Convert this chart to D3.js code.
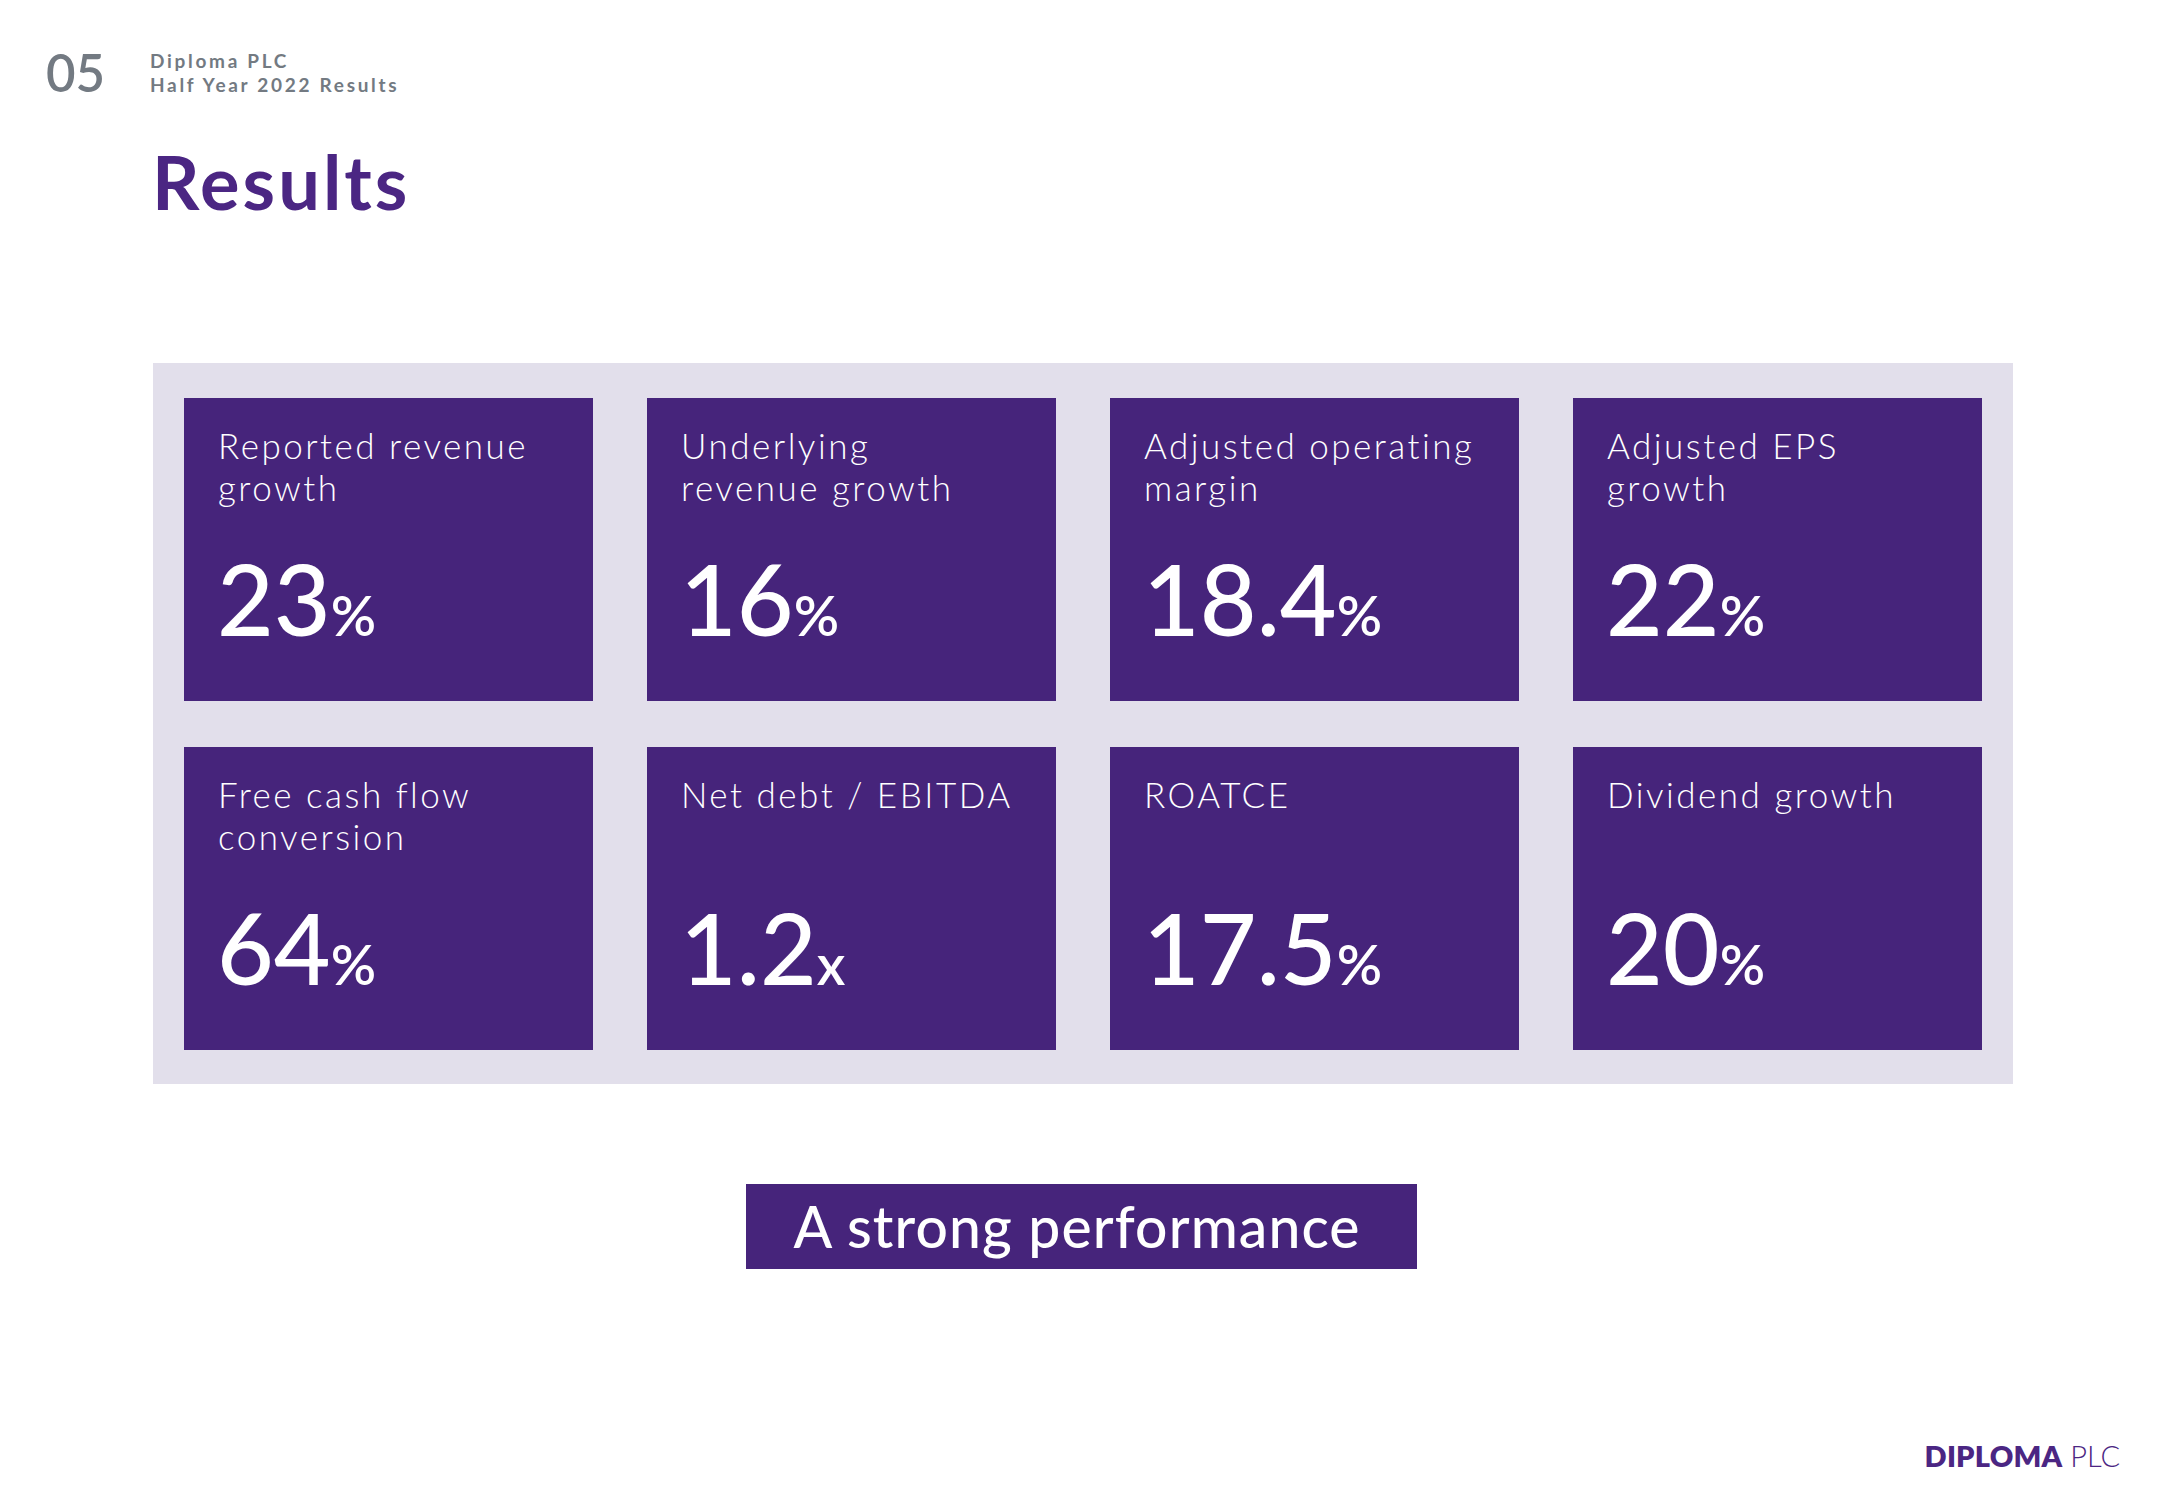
<!DOCTYPE html>
<html>
<head>
<meta charset="utf-8">
<script src="https://cdn.jsdelivr.net/npm/d3@7"></script>
<style>
  html, body { margin: 0; padding: 0; background: #ffffff; }
  svg { display: block; }
</style>
</head>
<body>
<svg id="chart"></svg>
<script>
// ---- data ----
const labels = [
  ["Reported revenue", "growth"],
  ["Underlying", "revenue growth"],
  ["Adjusted operating", "margin"],
  ["Adjusted EPS", "growth"],
  ["Free cash flow", "conversion"],
  ["Net debt / EBITDA"],
  ["ROATCE"],
  ["Dividend growth"]
];
const values = ["23", "16", "18.4", "22", "64", "1.2", "17.5", "20"];
const units = ["%", "%", "%", "%", "%", "x", "%", "%"];
const pageNumber = "05";
const headerLines = ["Diploma PLC", "Half Year 2022 Results"];
const title = "Results";
const banner = "A strong performance";

// ---- layout ----
const W = 2166, H = 1500;
const purple = "#46247b";
const lavender = "#e2dfeb";
const titlePurple = "#4b2683";
const grey = "#737a82";
const font = "Lato, 'Open Sans', 'Noto Sans', sans-serif";

const svg = d3.select("#chart").attr("width", W).attr("height", H)
  .style("font-family", font);
svg.append("rect").attr("width", W).attr("height", H).attr("fill", "#fff");

// header
svg.append("text").attr("x", 46).attr("y", 92).text(pageNumber)
  .attr("font-size", 51).attr("font-weight", 600).attr("fill", grey);
svg.selectAll("text.hdr").data(headerLines).join("text")
  .attr("class", "hdr")
  .attr("x", 150).attr("y", (d, i) => 68 + i * 24)
  .attr("font-size", 19).attr("font-weight", 700)
  .attr("letter-spacing", 2.7).attr("fill", grey).text(d => d);

svg.append("text").attr("x", 152).attr("y", 210).text(title)
  .attr("font-size", 74).attr("font-weight", 700).attr("letter-spacing", 3)
  .attr("fill", titlePurple);

// panel
svg.append("rect").attr("x", 153).attr("y", 363).attr("width", 1860).attr("height", 721)
  .attr("fill", lavender);

const idx = d3.range(values.length);
const x = d3.scaleBand().domain(d3.range(4)).range([184, 1982]).paddingInner(54 / 463);
const y = d3.scaleBand().domain(d3.range(2)).range([398, 1050]).paddingInner(46 / 349);

const tiles = svg.selectAll("g.tile").data(idx).join("g")
  .attr("class", "tile")
  .attr("transform", i => `translate(${x(i % 4)},${y(Math.floor(i / 4))})`);

tiles.append("rect")
  .attr("width", x.bandwidth()).attr("height", y.bandwidth())
  .attr("fill", purple);

tiles.each(function(i) {
  const g = d3.select(this);
  g.selectAll("text.lbl").data(labels[i]).join("text")
    .attr("class", "lbl")
    .attr("x", 34).attr("y", (d, j) => 61 + j * 42)
    .attr("font-size", 35).attr("font-weight", 300)
    .attr("letter-spacing", 2.5)
    .attr("fill", "#ffffff").text(d => d);
  const t = g.append("text").attr("x", 33).attr("y", 238)
    .attr("fill", "#ffffff").attr("font-weight", 500);
  t.append("tspan").attr("font-size", 98).text(values[i]);
  t.append("tspan").attr("font-size", 56).attr("font-weight", 600).text(units[i]);
});

// banner
svg.append("rect").attr("x", 746).attr("y", 1184).attr("width", 671).attr("height", 85)
  .attr("fill", purple);
svg.append("text").attr("x", 1077).attr("y", 1248).attr("text-anchor", "middle")
  .attr("font-size", 57).attr("font-weight", 500).attr("letter-spacing", 1.1)
  .attr("fill", "#fff").text(banner);

// logo
const logo = svg.append("text").attr("x", 2120).attr("y", 1467).attr("text-anchor", "end")
  .attr("font-size", 29).attr("fill", titlePurple);
logo.append("tspan").attr("font-weight", 800).attr("letter-spacing", 0.2).text("DIPLOMA");
logo.append("tspan").attr("font-weight", 300).text(" PLC");
</script>
</body>
</html>
